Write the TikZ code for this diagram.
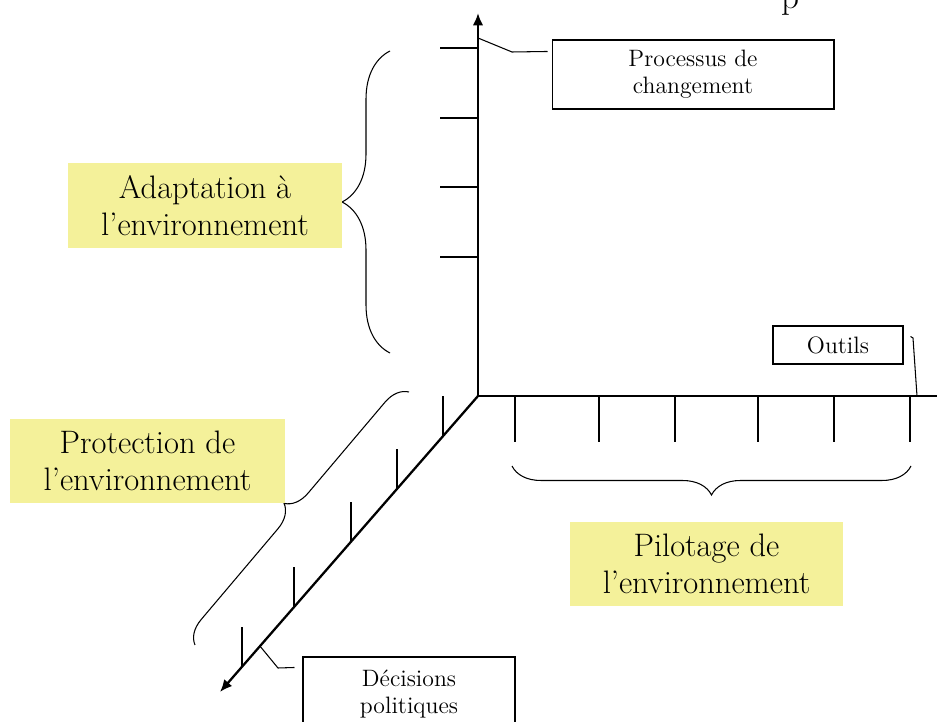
\documentclass[tikz,border=0pt]{standalone}
\usetikzlibrary{arrows.meta,calc,decorations.pathreplacing}
\definecolor{themeyellow}{RGB}{244,241,154}
\begin{document}
\begin{tikzpicture}[x=0.02cm, y=-0.02cm,
  theme/.style={fill=themeyellow, align=center, font=\fontsize{18.5}{21}\selectfont, inner sep=2pt},
  tag/.style={draw, line width=0.6pt, fill=white, align=center, font=\fontsize{13.5}{15.5}\selectfont},
  axis/.style={line width=1.3pt},
  tick/.style={line width=0.7pt},
  link/.style={line width=0.6pt},
  brc/.style={line width=0.6pt, decorate, decoration={brace, amplitude=#1}}
]
\useasboundingbox (0,0) rectangle (937,722);

% axes
\coordinate (O) at (478,396);
\coordinate (ytop) at (478,13);
\coordinate (xend) at (937,396);
\coordinate (zend) at (220,692);
\draw[axis, -{Latex[length=7pt,width=6pt]}] (O) -- (ytop);
\draw[axis] (O) -- (xend);
\draw[axis, -{Latex[length=7pt,width=6pt]}] (O) -- (zend);

% ticks
\foreach \ty in {48,118,187,257}
  \draw[tick] (440,\ty) -- (478,\ty);
\foreach \tx in {515,599,675,758,834,910}
  \draw[tick] (\tx,396) -- (\tx,442);
\foreach \t in {0.136,0.314,0.492,0.713,0.915}
  \draw[tick] ($(O)!\t!(zend)$) -- ++(0,-40);

% braces
\draw[brc=0.96cm] (390,353) -- (390,51);
\draw[brc=0.58cm] (911,466) -- (512,466);
\draw[brc=0.47cm] (195,645) -- (409,392);

% themes
\node[theme, minimum width=5.48cm, minimum height=1.7cm] (adapt) at (205,205.5) {Adaptation à\\l’environnement};
\node[theme, minimum width=5.5cm, minimum height=1.68cm] (protect) at (147.5,461) {Protection de\\l’environnement};
\node[theme, minimum width=5.46cm, minimum height=1.68cm] (pilot) at (706.5,564) {Pilotage de\\l’environnement};

% tags
\node[tag, minimum width=5.64cm, minimum height=1.38cm] (proc) at (693,74.5) {Processus de\\changement};
\node[tag, minimum width=2.6cm, minimum height=0.76cm] (outils) at (838,345) {Outils};
\node[tag, minimum width=4.24cm, minimum height=1.48cm] (decis) at (409,694) {Décisions\\politiques};
\node[font=\fontsize{20}{24}\selectfont, anchor=base] (ptop) at (790,9) {p};

% links
\draw[link] (478,38) -- (512,52) -- ($(proc.north west)+(-4,12)$);
\draw[link] (917,396) -- (913,338) -- ($(outils.north east)+(7,11)$);
\draw[link] ($(O)!0.845!(zend)$) -- (278,668) -- ($(decis.north west)+(-8,11)$);

\end{tikzpicture}
\end{document}
